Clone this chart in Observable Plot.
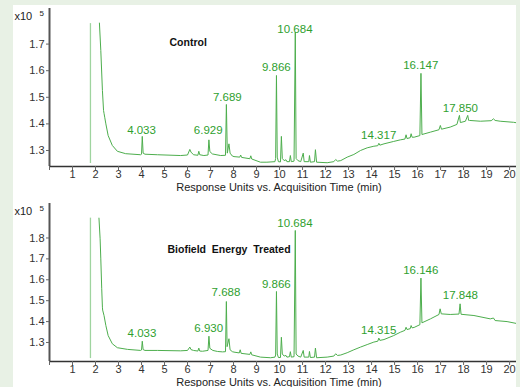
<!DOCTYPE html>
<html>
<head>
<meta charset="utf-8">
<script src="https://cdn.jsdelivr.net/npm/d3@7"></script>
<script src="https://cdn.jsdelivr.net/npm/@observablehq/plot@0.6"></script>
<style>
  html, body { margin: 0; padding: 0; }
  body { width: 520px; height: 387px; background: #e8f1e5; position: relative; overflow: hidden;
         font-family: "Liberation Sans", Arial, sans-serif; }
  #sheet { position: absolute; left: 13px; top: 5px; width: 503px; height: 382px; background: #fff; }
  #top { position: absolute; left: 0; top: 0; }
  #bottom { position: absolute; left: 0; top: 190px; }
  svg { display: block; overflow: visible; }
</style>
</head>
<body>
<div id="sheet"><div id="top"></div><div id="bottom"></div></div>
<script>
// ---------- data ----------
const xTicks = [0,1,2,3,4,5,6,7,8,9,10,11,12,13,14,15,16,17,18,19,20];
const xTitle = "Response Units vs. Acquisition Time (min)";

// Control (x10^5 counts)
const ctrlTitle = "Control";
const ctrlYTicks = [1.3, 1.4, 1.5, 1.6, 1.7];
const ctrlSolventTime = [1.78];
const ctrlSolventLow = [1.251];
const ctrlSolventHigh = [1.777];
const ctrlTime = [2.17,2.23,2.30,2.35,2.37,2.40,2.45,2.55,2.73,2.95,3.31,3.96,4.00,4.033,4.07,4.15,4.69,5.70,6.00,6.10,6.15,6.26,6.45,6.49,6.53,6.71,6.89,6.929,6.97,7.08,7.44,7.65,7.689,7.73,7.80,7.85,7.95,8.02,8.27,8.31,8.35,8.71,8.75,8.79,9.17,9.45,9.80,9.83,9.866,9.90,9.95,10.04,10.08,10.12,10.20,10.28,10.32,10.43,10.47,10.51,10.63,10.684,10.72,10.80,10.92,11.03,11.07,11.27,11.30,11.34,11.52,11.56,11.61,12.07,12.36,12.44,12.52,12.66,12.94,13.23,13.52,13.81,14.10,14.27,14.317,14.36,14.54,14.96,15.25,15.45,15.50,15.54,15.68,15.72,15.76,15.85,16.10,16.147,16.19,16.56,16.93,16.99,17.04,17.42,17.71,17.82,17.86,18.08,18.18,18.22,18.26,18.73,19.20,19.30,19.37,19.59,20.17,20.39];
const ctrlResp = [1.779,1.676,1.526,1.45,1.44,1.425,1.40,1.356,1.319,1.297,1.288,1.284,1.286,1.353,1.29,1.286,1.284,1.281,1.283,1.304,1.294,1.284,1.282,1.297,1.284,1.281,1.283,1.340,1.296,1.287,1.281,1.282,1.473,1.29,1.325,1.29,1.279,1.277,1.275,1.283,1.274,1.269,1.28,1.268,1.256,1.256,1.258,1.27,1.582,1.275,1.258,1.257,1.353,1.27,1.262,1.265,1.258,1.258,1.281,1.258,1.26,1.745,1.27,1.262,1.258,1.29,1.258,1.258,1.281,1.256,1.258,1.303,1.256,1.254,1.258,1.266,1.26,1.262,1.275,1.285,1.30,1.31,1.316,1.318,1.327,1.32,1.325,1.334,1.34,1.343,1.359,1.345,1.348,1.363,1.35,1.35,1.356,1.59,1.36,1.369,1.378,1.394,1.38,1.388,1.398,1.432,1.405,1.41,1.432,1.413,1.413,1.41,1.412,1.419,1.413,1.41,1.406,1.403];
const ctrlPeakText = ["4.033","6.929","7.689","9.866","10.684","14.317","16.147","17.850"];
const ctrlPeakX = [4.0, 6.9, 7.73, 9.86, 10.67, 14.31, 16.14, 17.86];
const ctrlPeakY = [1.375, 1.375, 1.50, 1.613, 1.757, 1.356, 1.62, 1.457];

// Biofield Energy Treated (x10^5 counts)
const trtTitle = "Biofield  Energy  Treated";
const trtYTicks = [1.3, 1.4, 1.5, 1.6, 1.7, 1.8];
const trtSolventTime = [1.78];
const trtSolventLow = [1.223];
const trtSolventHigh = [1.895];
const trtTime = [2.15,2.20,2.23,2.27,2.30,2.31,2.37,2.45,2.55,2.73,2.95,3.39,3.96,4.00,4.033,4.07,4.15,4.69,5.70,6.00,6.10,6.15,6.26,6.45,6.49,6.53,6.65,6.89,6.930,6.97,7.10,7.30,7.52,7.65,7.688,7.72,7.80,7.85,7.95,8.02,8.25,8.29,8.33,8.71,8.75,8.79,9.17,9.61,9.80,9.83,9.866,9.90,9.95,10.04,10.08,10.12,10.20,10.28,10.32,10.43,10.47,10.51,10.63,10.684,10.72,10.80,10.92,11.03,11.07,11.27,11.30,11.34,11.52,11.56,11.61,12.07,12.36,12.44,12.52,12.66,12.94,13.23,13.52,13.81,14.10,14.27,14.315,14.36,14.54,14.96,15.25,15.45,15.50,15.54,15.68,15.72,15.76,15.85,16.10,16.146,16.19,16.56,16.93,16.98,17.03,17.42,17.80,17.848,17.89,18.45,19.16,19.30,19.37,19.89,20.39];
const trtResp = [1.895,1.796,1.70,1.557,1.469,1.455,1.429,1.381,1.333,1.294,1.275,1.267,1.262,1.264,1.306,1.266,1.262,1.262,1.26,1.262,1.278,1.266,1.262,1.259,1.273,1.259,1.258,1.262,1.33,1.272,1.262,1.257,1.255,1.256,1.496,1.28,1.318,1.265,1.256,1.254,1.25,1.265,1.248,1.243,1.255,1.241,1.23,1.227,1.23,1.24,1.544,1.245,1.228,1.228,1.325,1.245,1.235,1.238,1.23,1.232,1.256,1.23,1.232,1.836,1.245,1.235,1.23,1.262,1.23,1.23,1.257,1.228,1.23,1.273,1.227,1.23,1.235,1.246,1.238,1.24,1.251,1.265,1.278,1.29,1.302,1.306,1.321,1.31,1.314,1.333,1.349,1.358,1.373,1.362,1.366,1.381,1.37,1.372,1.385,1.608,1.394,1.413,1.434,1.461,1.437,1.434,1.436,1.485,1.435,1.429,1.413,1.417,1.405,1.40,1.389];
const trtPeakText = ["4.033","6.930","7.688","9.866","10.684","14.315","16.146","17.848"];
const trtPeakX = [4.02, 6.92, 7.67, 9.86, 10.67, 14.31, 16.14, 17.86];
const trtPeakY = [1.346, 1.368, 1.538, 1.576, 1.868, 1.357, 1.644, 1.525];

// ---------- drawing ----------
const GREEN = "#4dae4d";
const LABEL_GREEN = "#2f9f2f";
const FONT = "'Liberation Sans', Arial, Helvetica, sans-serif";

function panel(o) {
  return Plot.plot({
    width: 503,
    height: o.height,
    marginLeft: 36,
    marginRight: 0,
    marginTop: o.marginTop,
    marginBottom: o.marginBottom,
    style: { fontFamily: FONT, fontSize: "11px", color: "#333", background: "transparent", overflow: "visible" },
    x: { domain: [0, 20.3], label: null },
    y: { domain: o.yDomain, label: null },
    marks: [
      Plot.ruleX(o.solventTime, { y1: o.solventLow, y2: o.solventHigh, stroke: "#9fd49f", strokeWidth: 1.3 }),
      Plot.line(o.resp, { x: o.time, y: o.resp, stroke: GREEN, strokeWidth: 1, clip: true }),
      Plot.ruleX([0], { stroke: "#555", strokeWidth: 2 }),
      Plot.ruleY([o.yDomain[0]], { stroke: "#333", strokeWidth: 1.4 }),
      Plot.axisX({ ticks: xTicks, tickSize: 4, tickPadding: 0, stroke: "#666",
                   tickFormat: d => d === 0 ? "" : String(d), fontSize: 11, fill: "#333", label: null }),
      Plot.axisY({ ticks: o.yTicks, tickSize: 3, tickPadding: 2, stroke: "#666",
                   tickFormat: d3.format(".1f"), fontSize: 11, fill: "#333", label: null }),
      Plot.text(o.peakText, { x: o.peakX, y: o.peakY, text: d => d, fill: LABEL_GREEN, fontSize: 11.5 }),
      Plot.text([o.title], { frameAnchor: "top-left", dx: o.titleDx, dy: o.titleDy, text: d => d,
                            lineAnchor: "middle", fontWeight: "bold", fontSize: 10.5, fill: "#111" }),
      Plot.text(["x10"], { frameAnchor: "top-left", dx: -35, dy: o.expDy, text: d => d,
                          lineAnchor: "middle", textAnchor: "start", fontSize: 11, fill: "#222" }),
      Plot.text(["5"], { frameAnchor: "top-left", dx: -10, dy: o.expDy - 3, text: d => d,
                        lineAnchor: "middle", textAnchor: "start", fontSize: 8, fill: "#222" }),
      Plot.text([xTitle], { frameAnchor: "bottom", dx: -4, dy: o.xTitleDy, text: d => d,
                           lineAnchor: "middle", fontSize: 11, fill: "#222" })
    ]
  });
}

document.getElementById("top").appendChild(panel({
  height: 190, marginTop: 3, marginBottom: 29,
  yDomain: [1.2398, 1.8338], yTicks: ctrlYTicks,
  time: ctrlTime, resp: ctrlResp,
  solventTime: ctrlSolventTime, solventLow: ctrlSolventLow, solventHigh: ctrlSolventHigh,
  peakText: ctrlPeakText, peakX: ctrlPeakX, peakY: ctrlPeakY,
  title: ctrlTitle, titleDx: 120, titleDy: 34, expDy: 8, xTitleDy: 21
}));

document.getElementById("bottom").appendChild(panel({
  height: 192, marginTop: 8, marginBottom: 26,
  yDomain: [1.209, 1.965], yTicks: trtYTicks,
  time: trtTime, resp: trtResp,
  solventTime: trtSolventTime, solventLow: trtSolventLow, solventHigh: trtSolventHigh,
  peakText: trtPeakText, peakX: trtPeakX, peakY: trtPeakY,
  title: trtTitle, titleDx: 118, titleDy: 46, expDy: 8, xTitleDy: 21
}));
</script>
</body>
</html>
